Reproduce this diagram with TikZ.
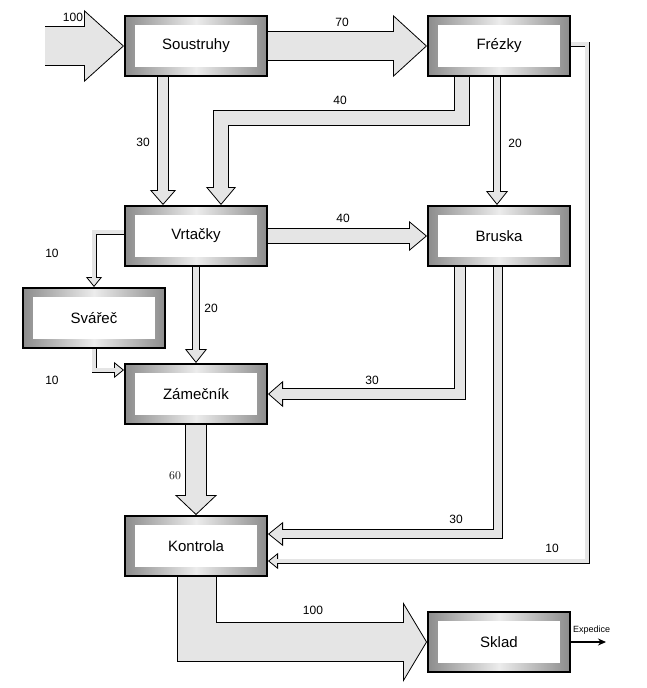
\documentclass[tikz,border=0pt]{standalone}
\usepackage{fontspec}
\setsansfont{Liberation Sans}
\usetikzlibrary{arrows.meta,backgrounds}
\definecolor{flowgray}{gray}{0.9}
\tikzset{
  box/.style={draw=black, line width=2pt, minimum width=142pt, minimum height=60pt, inner sep=0pt,
    font=\sffamily\fontsize{15}{15}\selectfont,
    path picture={
      \shade[left color=gray!90, right color=gray!90, middle color=gray!15]
        (path picture bounding box.south west) rectangle (path picture bounding box.north east);
      \fill[white] ([xshift=10pt,yshift=9pt]path picture bounding box.south west)
        rectangle ([xshift=-10pt,yshift=-9pt]path picture bounding box.north east);}},
  lbl/.style={font=\sffamily\fontsize{12}{12}\selectfont, inner sep=1pt}
}
% flow arrow: shaft width, head width, head length, path
\newcommand\flow[4]{%
  \draw[line width=#1, line join=miter, -{Triangle[width=#2,length=#3,fill=flowgray,line width=0.8pt]}] #4;
  \draw[line width=#1-1.6pt, line join=miter, flowgray, shorten >=#3-0.8pt] #4;}
\begin{document}
\begin{tikzpicture}[x=1pt,y=-1pt]
\useasboundingbox (0,0) rectangle (647,688);
% machines
\node[box] (sou) at (196,46) {Soustruhy};
\node[box] (fre) at (499,46) {Frézky};
\node[box] (vrt) at (196,236) {Vrtačky};
\node[box] (bru) at (499,236) {Bruska};
\node[box] (sva) at (94,318) {Svářeč};
\node[box] (zam) at (196,394) {Zámečník};
\node[box] (kon) at (196,546) {Kontrola};
\node[box] (skl) at (499,642) {Sklad};
\coordinate (src) at (45,46);
\coordinate (exp) at (606,642);
% flows
\begin{scope}[on background layer]
\flow{40pt}{72pt}{40pt}{(src) -- (sou.west)}
\flow{30pt}{62pt}{34pt}{(sou.east) -- (fre.west)}
\flow{12pt}{26pt}{15pt}{([xshift=-33pt]sou.south) -- ([xshift=-33pt]vrt.north)}
\flow{16pt}{30pt}{18pt}{([xshift=-37pt]fre.south) -- ++(0,41) -| ([xshift=25pt]vrt.north)}
\flow{8pt}{22pt}{14pt}{([xshift=-2pt]fre.south) -- ([xshift=-2pt]bru.north)}
\flow{16pt}{30pt}{18pt}{(vrt.east) -- (bru.west)}
\flow{5pt}{16pt}{10pt}{([yshift=4pt]vrt.west) -| (sva.north)}
\flow{8pt}{22pt}{14pt}{(vrt.south) -- (zam.north)}
\flow{5pt}{16pt}{10pt}{(sva.south) |- ([yshift=24pt]zam.west)}
\flow{12pt}{26pt}{15pt}{([xshift=-39pt]bru.south) |- (zam.east)}
\flow{22pt}{42pt}{20pt}{(zam.south) -- (kon.north)}
\flow{10pt}{24pt}{15pt}{([xshift=-1pt]bru.south) |- ([yshift=12pt]kon.east)}
\flow{5pt}{16pt}{10pt}{([yshift=2pt]fre.east) -- ++(16,0) |- ([yshift=-15pt]kon.east)}
\flow{40pt}{80pt}{24pt}{([xshift=1pt]kon.south) |- (skl.west)}
\end{scope}
\draw[line width=1.2pt, -{Stealth[length=8pt,width=7pt]}] (skl.east) -- (exp);
% values
\node[lbl] (l1) at (73,17) {100};
\node[lbl] (l2) at (342,22) {70};
\node[lbl] (l3) at (143,142) {30};
\node[lbl] (l4) at (340,100) {40};
\node[lbl] (l5) at (515,143) {20};
\node[lbl] (l6) at (343,218) {40};
\node[lbl] (l7) at (52,253) {10};
\node[lbl] (l8) at (211,308) {20};
\node[lbl] (l9) at (52,380) {10};
\node[lbl] (l10) at (372,380) {30};
\node[lbl, font=\rmfamily\fontsize{12}{12}\selectfont] (l11) at (175,476) {60};
\node[lbl] (l12) at (456,519) {30};
\node[lbl] (l13) at (552,548) {10};
\node[lbl] (l14) at (313,610) {100};
\node[lbl, font=\sffamily\fontsize{9}{9}\selectfont, anchor=south west] (l15) at (572,636) {Expedice};
\end{tikzpicture}
\end{document}
